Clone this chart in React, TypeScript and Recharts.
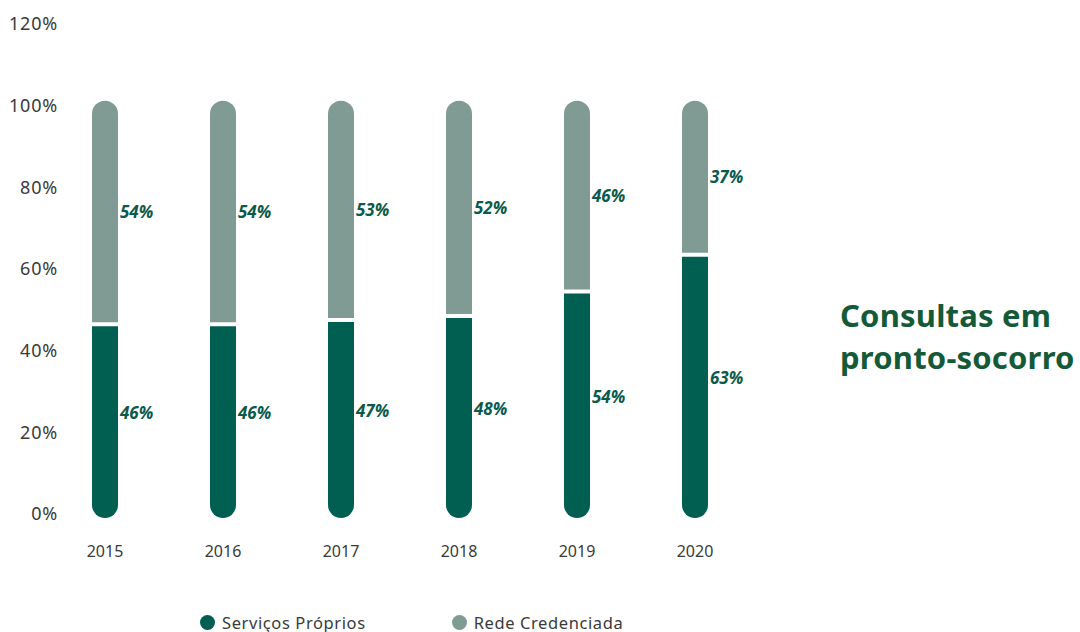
import React from 'react';
import { BarChart, Bar, XAxis, YAxis, Legend, LabelList } from 'recharts';

const years = ['2015', '2016', '2017', '2018', '2019', '2020'];
const servicosProprios = [46, 46, 47, 48, 54, 63];
const redeCredenciada = [54, 54, 53, 52, 46, 37];
const yTicks = [0, 20, 40, 60, 80, 100, 120];

const data = years.map((year, i) => ({
  year,
  proprios: servicosProprios[i],
  rede: redeCredenciada[i],
}));

const DARK = '#005f50';
const GRAY = '#7f9b94';
const LABEL = '#0b5a4c';

function pill(x: number, y: number, w: number, h: number, rt: number, rb: number) {
  return [
    `M${x},${y + rt}`,
    rt ? `A${rt},${rt} 0 0 1 ${x + rt},${y}` : '',
    `L${x + w - rt},${y}`,
    rt ? `A${rt},${rt} 0 0 1 ${x + w},${y + rt}` : '',
    `L${x + w},${y + h - rb}`,
    rb ? `A${rb},${rb} 0 0 1 ${x + w - rb},${y + h}` : '',
    `L${x + rb},${y + h}`,
    rb ? `A${rb},${rb} 0 0 1 ${x},${y + h - rb}` : '',
    'Z',
  ].join(' ');
}

// bottom segment: flat top, rounded foot that runs a little under the axis
const DarkShape = (props: any) => {
  const { x, y, width, height } = props;
  return <path d={pill(x, y, width, height + 4, 0, width / 2)} fill={DARK} />;
};

// top segment: rounded cap, with a white gap left above the dark part
const GrayShape = (props: any) => {
  const { x, y, width, height } = props;
  return <path d={pill(x, y - 5, width, height + 1, width / 2, 0)} fill={GRAY} />;
};

const LegendContent = () => (
  <div style={{ display: 'flex', gap: 86, fontFamily: 'Noto Sans', fontSize: 16.5, color: '#3a3a3a', letterSpacing: 0.6 }}>
    {[
      { name: 'Serviços Próprios', color: DARK },
      { name: 'Rede Credenciada', color: GRAY },
    ].map((it) => (
      <div key={it.name} style={{ display: 'flex', alignItems: 'center', gap: 7 }}>
        <span style={{ width: 15, height: 15, borderRadius: '50%', background: it.color, display: 'inline-block' }} />
        <span>{it.name}</span>
      </div>
    ))}
  </div>
);

export default function App() {
  const labelStyle = { fontFamily: 'Noto Sans', fontSize: 17, fontWeight: 700, fontStyle: 'italic', fill: LABEL };
  return (
    <div style={{ position: 'absolute', left: 0, top: 0, width: 1080, height: 632, background: '#fff' }}>
      <BarChart width={1080} height={632} data={data} margin={{ top: 24, right: 326, bottom: 0, left: 0 }}>
        <XAxis
          dataKey="year"
          axisLine={false}
          tickLine={false}
          height={118}
          tickMargin={26}
          tick={{ fontFamily: 'Noto Sans', fontSize: 16, fill: '#3a3a3a' }}
        />
        <YAxis
          width={46}
          domain={[0, 120]}
          ticks={yTicks}
          axisLine={false}
          tickLine={false}
          tickFormatter={(v: number) => `${v}%`}
          tick={{ fontFamily: 'Noto Sans', fontSize: 18, fill: '#3a3a3a', dx: 20, letterSpacing: 0.8 }}
        />
        <Legend
          verticalAlign="middle"
          align="center"
          content={<LegendContent />}
          wrapperStyle={{ top: 611, left: 200, width: 520 }}
        />
        <Bar dataKey="proprios" stackId="a" barSize={26} shape={DarkShape} isAnimationActive={false}>
          <LabelList dataKey="proprios" position="right" offset={2} dy={-7} formatter={(v: number) => `${v}%`} style={labelStyle} />
        </Bar>
        <Bar dataKey="rede" stackId="a" barSize={26} shape={GrayShape} isAnimationActive={false}>
          <LabelList dataKey="rede" position="right" offset={2} dy={-4} formatter={(v: number) => `${v}%`} style={labelStyle} />
        </Bar>
      </BarChart>
      <div
        style={{
          position: 'absolute',
          left: 840,
          top: 294,
          fontFamily: 'Noto Sans',
          fontWeight: 700,
          fontSize: 31,
          lineHeight: '42px',
          color: '#145a38',
          letterSpacing: 0.2,
        }}
      >
        Consultas em
        <br />
        pronto-socorro
      </div>
    </div>
  );
}
